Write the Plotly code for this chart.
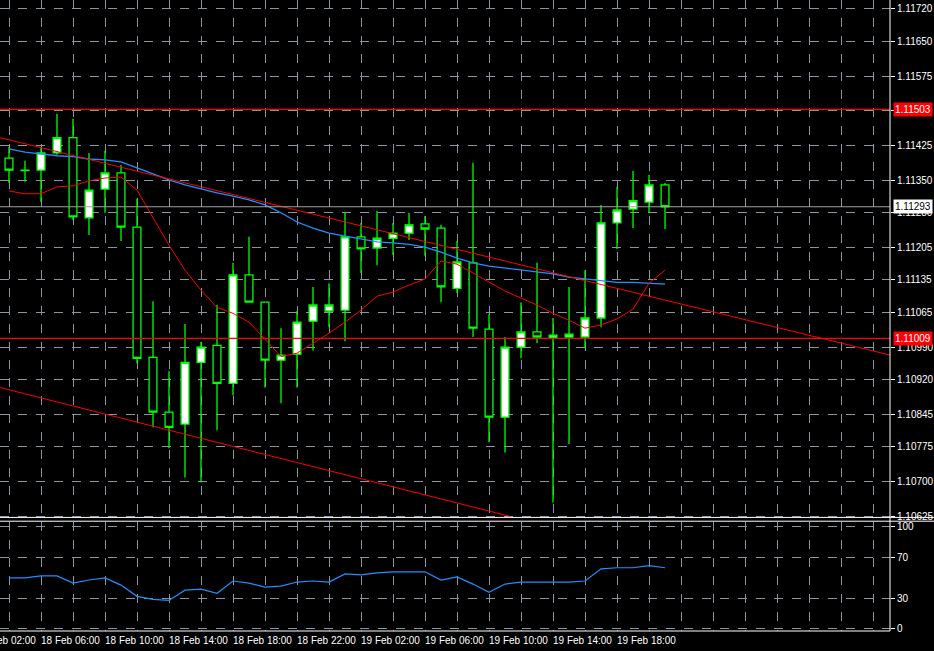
import pandas as pd
import plotly.graph_objects as go

# hourly bars, 18 Feb 04:00 .. 19 Feb 21:00
times = pd.date_range("2020-02-18 04:00", periods=42, freq="h")

opens = [1.11398, 1.11372, 1.11372, 1.11409, 1.11442, 1.11269, 1.11331, 1.11366, 1.11249, 1.10968,
         1.10850, 1.10824, 1.10957, 1.10994, 1.10912, 1.11146, 1.11087, 1.10962, 1.10975, 1.11046,
         1.11068, 1.11070, 1.11228, 1.11204, 1.11225, 1.11236, 1.11256, 1.11247, 1.11117, 1.11172,
         1.11029, 1.10839, 1.10990, 1.11023, 1.11010, 1.11012, 1.11012, 1.11053, 1.11258, 1.11288,
         1.11303, 1.11340]
highs = [1.11422, 1.11392, 1.11422, 1.11493, 1.11483, 1.11409, 1.11414, 1.11383, 1.11310, 1.11089,
         1.10938, 1.11040, 1.11001, 1.11081, 1.11172, 1.11228, 1.11087, 1.11031, 1.11068, 1.11120,
         1.11128, 1.11280, 1.11258, 1.11284, 1.11258, 1.11280, 1.11273, 1.11254, 1.11219, 1.11388,
         1.11061, 1.11012, 1.11087, 1.11172, 1.11053, 1.11120, 1.11156, 1.11297, 1.11336, 1.11370,
         1.11362, 1.11344]
lows = [1.11344, 1.11347, 1.11303, 1.11405, 1.11264, 1.11232, 1.11280, 1.11219, 1.10955, 1.10817,
        1.10772, 1.10709, 1.10698, 1.10811, 1.10886, 1.11087, 1.10903, 1.10869, 1.10903, 1.10983,
        1.11033, 1.11003, 1.11150, 1.11167, 1.11189, 1.11221, 1.11187, 1.11087, 1.11107, 1.11012,
        1.10785, 1.10763, 1.10966, 1.10999, 1.10655, 1.10781, 1.10988, 1.11033, 1.11202, 1.11247,
        1.11280, 1.11245]
closes = [1.11372, 1.11371, 1.11409, 1.11442, 1.11271, 1.11329, 1.11366, 1.11249, 1.10966, 1.10850,
          1.10817, 1.10957, 1.10990, 1.10912, 1.11146, 1.11087, 1.10962, 1.10973, 1.11044, 1.11081,
          1.11081, 1.11228, 1.11202, 1.11225, 1.11236, 1.11254, 1.11245, 1.11120, 1.11174, 1.11031,
          1.10839, 1.10990, 1.11023, 1.11012, 1.11016, 1.11018, 1.11053, 1.11258, 1.11286, 1.11306,
          1.11340, 1.11293]

ma_slow = [1.11418, 1.11411, 1.11407, 1.11403, 1.11401, 1.11396, 1.11394, 1.11390, 1.11377, 1.11364,
           1.11351, 1.11340, 1.11331, 1.11323, 1.11316, 1.11308, 1.11297, 1.11280, 1.11260, 1.11247,
           1.11236, 1.11230, 1.11223, 1.11217, 1.11215, 1.11212, 1.11206, 1.11195, 1.11182, 1.11172,
           1.11165, 1.11161, 1.11156, 1.11152, 1.11148, 1.11141, 1.11137, 1.11133, 1.11130, 1.11130,
           1.11128, 1.11126]
ma_fast = [1.11327, 1.11321, 1.11321, 1.11336, 1.11338, 1.11349, 1.11355, 1.11357, 1.11329, 1.11269,
           1.11210, 1.11156, 1.11113, 1.11076, 1.11063, 1.11044, 1.11007, 1.10970, 1.10977, 1.10999,
           1.11020, 1.11044, 1.11070, 1.11100, 1.11109, 1.11124, 1.11137, 1.11176, 1.11169, 1.11150,
           1.11130, 1.11111, 1.11096, 1.11081, 1.11063, 1.11048, 1.11031, 1.11038, 1.11051, 1.11072,
           1.11128, 1.11156]

osc = [50, 50, 52, 52, 45, 48, 50, 43, 32, 29, 28, 38, 39, 35, 47, 45, 41, 42, 46, 47, 46,
       54, 53, 55, 56, 56, 56, 48, 51, 44, 36, 44, 46, 46, 46, 46, 47, 59, 60, 60, 62, 60]

# trendlines (time, price) endpoints
upper_t = ["2020-02-18 03:26:15", "2020-02-20 11:03:36"]
upper_p = [1.11442, 1.10973]
lower_t = ["2020-02-18 03:26:15", "2020-02-19 11:18:36"]
lower_p = [1.10903, 1.10625]

level_hi, level_lo, last_price = 1.11503, 1.11009, 1.11293

price_ticks = [1.11720, 1.11650, 1.11575, 1.11500, 1.11425, 1.11350, 1.11280, 1.11205,
               1.11135, 1.11065, 1.10990, 1.10920, 1.10845, 1.10775, 1.10700, 1.10625]
osc_ticks = [0, 30, 70, 100]
label_times = pd.date_range("2020-02-18 02:00", periods=11, freq="4h")

GRID = "#8a96a3"
FONT = dict(family="Liberation Sans, Arial", size=10, color="white")
x_range = [pd.Timestamp("2020-02-18 03:26:15"), pd.Timestamp("2020-02-20 11:03:36")]
span = (x_range[1] - x_range[0]).total_seconds()

fig = go.Figure()
fig.add_trace(go.Candlestick(
    x=times, open=opens, high=highs, low=lows, close=closes,
    increasing=dict(line=dict(color="#00ff00", width=1.3), fillcolor="white"),
    decreasing=dict(line=dict(color="#00ff00", width=1.3), fillcolor="black"),
    whiskerwidth=0, showlegend=False, hoverinfo="skip"))
fig.add_trace(go.Scatter(x=times, y=ma_slow, mode="lines",
                         line=dict(color="#1e90ff", width=1.3), showlegend=False))
fig.add_trace(go.Scatter(x=times, y=ma_fast, mode="lines",
                         line=dict(color="red", width=1), showlegend=False))
fig.add_trace(go.Scatter(x=upper_t, y=upper_p, mode="lines",
                         line=dict(color="red", width=1), showlegend=False))
fig.add_trace(go.Scatter(x=lower_t, y=lower_p, mode="lines",
                         line=dict(color="red", width=1), showlegend=False))
fig.add_trace(go.Scatter(x=times, y=osc, mode="lines", xaxis="x2", yaxis="y2",
                         line=dict(color="#1e90ff", width=1.2), showlegend=False))

for lvl, col in ((level_hi, "red"), (level_lo, "red"), (last_price, "#a0a0a0")):
    fig.add_shape(type="line", xref="paper", x0=0, x1=1, yref="y", y0=lvl, y1=lvl,
                  line=dict(color=col, width=1.2))

# right-side price tags (cover the tick label underneath, as in the terminal)
for lvl, bg, fg in ((level_hi, "red", "white"), (level_lo, "red", "white"),
                    (last_price, "white", "black")):
    fig.add_annotation(xref="paper", x=1.0, xanchor="left", yref="y", y=lvl,
                       text=f"{lvl:.5f}", showarrow=False, bgcolor=bg, borderpad=1,
                       font=dict(family=FONT["family"], size=10, color=fg), xshift=3)

# time labels, left-aligned at their bar like the terminal does
for t in label_times:
    frac = (t - x_range[0]).total_seconds() / span
    fig.add_annotation(xref="paper", x=frac, xanchor="left", yref="paper", y=0, yanchor="top",
                       text=t.strftime("%d %b %H:%M").lstrip("0"), showarrow=False,
                       font=FONT, yshift=-2, xshift=-2)

# panel frame lines
fig.add_shape(type="line", xref="paper", x0=1, x1=1, yref="paper", y0=0, y1=1,
              line=dict(color="white", width=1))
for yy in (0.174, 0.180):
    fig.add_shape(type="line", xref="paper", x0=0, x1=1.05, yref="paper", y0=yy, y1=yy,
                  line=dict(color="white", width=1))
fig.add_shape(type="line", xref="paper", x0=0, x1=1, yref="paper", y0=0, y1=0,
              line=dict(color="white", width=1))

axis_common = dict(showgrid=True, gridcolor=GRID, griddash="dash", gridwidth=1,
                   zeroline=False, showline=False)
fig.update_layout(
    width=934, height=651, paper_bgcolor="black", plot_bgcolor="black",
    margin=dict(l=0, r=44, t=0, b=20), font=FONT, showlegend=False,
    xaxis=dict(range=x_range, dtick=2 * 3600 * 1000, tick0="2020-02-18 04:00",
               showticklabels=False, rangeslider=dict(visible=False),
               anchor="y", **axis_common),
    yaxis=dict(domain=[0.178, 1], range=[1.10620, 1.11739], side="right",
               tickvals=price_ticks, ticktext=[f"{v:.5f}" for v in price_ticks],
               ticks="outside", ticklen=4, tickcolor="white", **axis_common),
    xaxis2=dict(range=x_range, dtick=2 * 3600 * 1000, tick0="2020-02-18 04:00",
                showticklabels=False, anchor="y2", matches="x", **axis_common),
    yaxis2=dict(domain=[0, 0.172], range=[-2, 104.4], side="right", anchor="x2",
                tickvals=osc_ticks, ticks="outside", ticklen=4, tickcolor="white",
                **axis_common),
)

fig.write_html("out.html", config={"displayModeBar": False},
               post_script="document.body.style.margin='0';")
